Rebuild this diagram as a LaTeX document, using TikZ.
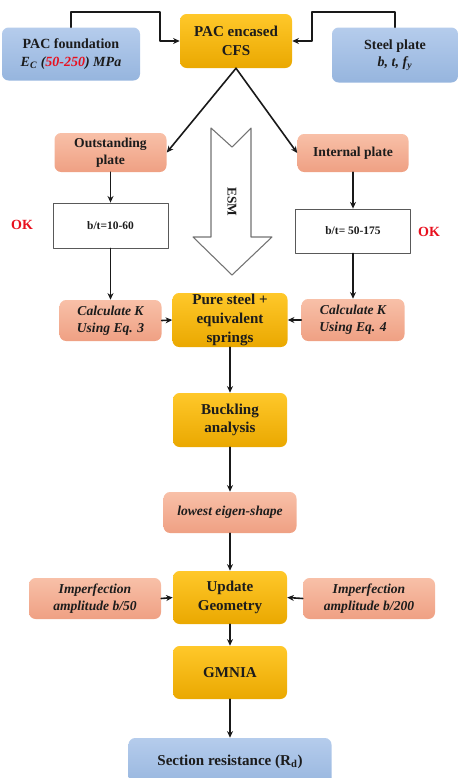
\documentclass[tikz,border=0pt]{standalone}
\usepackage{fontspec}
\setmainfont{Liberation Serif}
\usepackage{xcolor}
\usetikzlibrary{positioning,calc,arrows.meta}

\definecolor{blueTop}{HTML}{B5CCEC}
\definecolor{blueBot}{HTML}{96B5DE}
\definecolor{goldTop}{HTML}{FFC82A}
\definecolor{goldBot}{HTML}{EAA800}
\definecolor{salTop}{HTML}{F8C0A8}
\definecolor{salBot}{HTML}{EFA083}
\definecolor{okRed}{HTML}{E8101E}
\definecolor{txtDark}{HTML}{1C1C1C}

\def\px{0.75pt}

\begin{document}
\begin{tikzpicture}[
		x=0.75pt,y=-0.75pt,
		line cap=round,line join=round,
		box/.style={rounded corners=5pt, inner sep=0pt, align=center, text=txtDark},
		bluebox/.style={box, top color=blueTop, bottom color=blueBot,
			font=\fontsize{10.5}{13}\selectfont\bfseries},
		goldbox/.style={box, top color=goldTop, bottom color=goldBot,
			font=\fontsize{11.3}{14}\selectfont\bfseries},
		salbox/.style={box, top color=salTop, bottom color=salBot,
			font=\fontsize{10.2}{12.8}\selectfont\bfseries},
		limbox/.style={draw=black!65, line width=0.6pt, fill=white, inner sep=0pt,
			font=\fontsize{8.6}{10}\selectfont\bfseries, text=txtDark},
		oklabel/.style={font=\fontsize{10.5}{12}\selectfont\bfseries, text=okRed},
		arr/.style={-{Stealth[length=5pt,width=4.5pt]}, line width=1.2pt, black!90}
	]
	% ---- canvas
	\useasboundingbox (0,0) rectangle (459,778);
	\clip (0,0) rectangle (459,778);
	
	% ---- top row
	\node[bluebox, minimum width=138*\px, minimum height=53*\px] (foundation) at (71,54)
	{PAC foundation\\\textit{E\textsubscript{C} (\textcolor{okRed}{50-250}) MPa}};
	\node[goldbox, minimum width=112*\px, minimum height=54*\px] (encased) at (236,41)
	{PAC encased\\CFS};
	\node[bluebox, minimum width=126*\px, minimum height=55*\px] (steel) at (395,55)
	{Steel plate\\\textit{b, t, f\textsubscript{y}}};
	
	% ---- plate types
	\node[salbox, minimum width=112*\px, minimum height=39*\px] (outplate) at (110.5,152.5)
	{Outstanding\\plate};
	\node[salbox, minimum width=111*\px, minimum height=38*\px] (intplate) at (353,153)
	{Internal plate};
	
	% ---- slenderness limits
	\node[limbox, minimum width=115*\px, minimum height=45*\px] (btout) at (110.5,225.5) {b/t=10-60};
	\node[limbox, minimum width=115*\px, minimum height=44*\px] (btint) at (353,231) {b/t= 50-175};
	\node[oklabel] (okout) at (22,225) {OK};
	\node[oklabel] (okint) at (429,232) {OK};
	
	% ---- springs
	\node[salbox, font=\fontsize{10.2}{12.8}\selectfont\bfseries\itshape,
	minimum width=102*\px, minimum height=41*\px] (calcK3) at (110.5,320.5)
	{Calculate K\\Using Eq. 3};
	\node[goldbox, minimum width=115*\px, minimum height=54*\px] (pure) at (230,320)
	{Pure steel +\\equivalent\\springs};
	\node[salbox, font=\fontsize{10.2}{12.8}\selectfont\bfseries\itshape,
	minimum width=103*\px, minimum height=42*\px] (calcK4) at (353,320)
	{Calculate K\\Using Eq. 4};
	
	% ---- analysis chain
	\node[goldbox, minimum width=114*\px, minimum height=54*\px] (buckling) at (230,420)
	{Buckling\\analysis};
	\node[salbox, font=\fontsize{10.2}{12.8}\selectfont\bfseries\itshape,
	minimum width=133*\px, minimum height=41*\px] (eigen) at (230,512.5)
	{lowest eigen-shape};
	\node[goldbox, minimum width=114*\px, minimum height=53*\px] (update) at (230,597.5)
	{Update\\Geometry};
	\node[salbox, font=\fontsize{10.2}{12.8}\selectfont\bfseries\itshape,
	minimum width=132*\px, minimum height=41*\px] (impL) at (95,598.5)
	{Imperfection\\amplitude b/50};
	\node[salbox, font=\fontsize{10.2}{12.8}\selectfont\bfseries\itshape,
	minimum width=132*\px, minimum height=41*\px] (impR) at (369,598.5)
	{Imperfection\\amplitude b/200};
	\node[goldbox, minimum width=114*\px, minimum height=53*\px] (gmnia) at (230,672.5)
	{GMNIA};
	\node[bluebox, minimum width=203*\px, minimum height=50*\px] (section) at (230,763)
	{};
	\node[font=\fontsize{11.3}{14}\selectfont\bfseries, text=txtDark] (sectiontxt) at (230,762)
	{Section resistance (R\textsubscript{d})};
	
	% ---- ESM arrow
	\draw[black!55, line width=0.8pt, fill=white]
	(211,128) -- (232,147) -- (251,128) -- (251,237) -- (272,237) -- (232,275)
	-- (193,237) -- (211,237) -- cycle;
	\node[rotate=-90, font=\fontsize{10}{12}\selectfont\bfseries, text=txtDark] (esm) at (232,202) {ESM};
	
	% ---- connectors
	\draw[arr] (foundation.north) |- (160,12) |- (encased.west);
	\draw[arr] (steel.north) |- (312,12) |- (encased.east);
	\draw[arr] (encased.south) -- (outplate.east);
	\draw[arr] (encased.south) -- (intplate.west);
	\draw[arr] (outplate.south) -- (btout.north);
	\draw[arr] (intplate.south) -- (btint.north);
	\draw[arr] (btout.south) -- (calcK3.north);
	\draw[arr] (btint.south) -- (calcK4.north);
	\draw[arr] (calcK3.east) -- (pure.west);
	\draw[arr] (calcK4.west) -- (pure.east);
	\draw[arr] (pure.south) -- (buckling.north);
	\draw[arr] (buckling.south) -- (eigen.north);
	\draw[arr] (eigen.south) -- (update.north);
	\draw[arr] (impL.east) -- (update.west);
	\draw[arr] (impR.west) -- (update.east);
	\draw[arr] (update.south) -- (gmnia.north);
	\draw[arr] (gmnia.south) -- (section.north);
\end{tikzpicture}
\end{document}
